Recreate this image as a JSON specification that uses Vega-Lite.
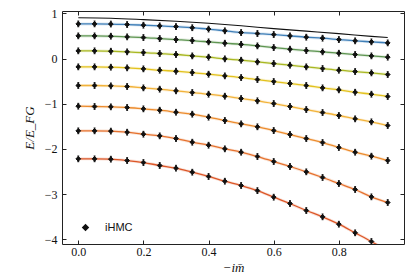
{
  "$schema": "https://vega.github.io/schema/vega-lite/v6.json",
  "width": 342,
  "height": 233,
  "autosize": {"type": "none"},
  "padding": {"left": 62, "top": 11, "right": 11, "bottom": 33},
  "background": "white",
  "config": {
    "view": {"stroke": "#222", "strokeWidth": 1},
    "axis": {
      "domain": false, "grid": false, "tickColor": "#222", "tickSize": -4, "tickWidth": 1,
      "labelColor": "#111", "titleColor": "#111",
      "labelFont": "Liberation Serif", "labelFontSize": 12,
      "titleFont": "Liberation Serif", "titleFontSize": 13, "titleFontStyle": "italic", "titleFontWeight": "normal"
    }
  },
  "datasets": {
    "levels": [
      {"m":0,"n":1,"E":0.765},{"m":0.05,"n":1,"E":0.765},{"m":0.1,"n":1,"E":0.762},{"m":0.15,"n":1,"E":0.751},{"m":0.2,"n":1,"E":0.736},{"m":0.25,"n":1,"E":0.721},{"m":0.3,"n":1,"E":0.705},{"m":0.35,"n":1,"E":0.68},{"m":0.4,"n":1,"E":0.65},{"m":0.45,"n":1,"E":0.612},{"m":0.5,"n":1,"E":0.574},{"m":0.55,"n":1,"E":0.552},{"m":0.6,"n":1,"E":0.53},{"m":0.65,"n":1,"E":0.5},{"m":0.7,"n":1,"E":0.471},{"m":0.75,"n":1,"E":0.449},{"m":0.8,"n":1,"E":0.419},{"m":0.85,"n":1,"E":0.39},{"m":0.9,"n":1,"E":0.368},{"m":0.95,"n":1,"E":0.345},
      {"m":0,"n":2,"E":0.5},{"m":0.05,"n":2,"E":0.5},{"m":0.1,"n":2,"E":0.493},{"m":0.15,"n":2,"E":0.478},{"m":0.2,"n":2,"E":0.463},{"m":0.25,"n":2,"E":0.441},{"m":0.3,"n":2,"E":0.419},{"m":0.35,"n":2,"E":0.397},{"m":0.4,"n":2,"E":0.368},{"m":0.45,"n":2,"E":0.338},{"m":0.5,"n":2,"E":0.312},{"m":0.55,"n":2,"E":0.279},{"m":0.6,"n":2,"E":0.242},{"m":0.65,"n":2,"E":0.206},{"m":0.7,"n":2,"E":0.176},{"m":0.75,"n":2,"E":0.147},{"m":0.8,"n":2,"E":0.117},{"m":0.85,"n":2,"E":0.088},{"m":0.9,"n":2,"E":0.058},{"m":0.95,"n":2,"E":0.029},
      {"m":0,"n":3,"E":0.169},{"m":0.05,"n":3,"E":0.169},{"m":0.1,"n":3,"E":0.161},{"m":0.15,"n":3,"E":0.147},{"m":0.2,"n":3,"E":0.132},{"m":0.25,"n":3,"E":0.11},{"m":0.3,"n":3,"E":0.088},{"m":0.35,"n":3,"E":0.058},{"m":0.4,"n":3,"E":0.029},{"m":0.45,"n":3,"E":-0.008},{"m":0.5,"n":3,"E":-0.038},{"m":0.55,"n":3,"E":-0.074},{"m":0.6,"n":3,"E":-0.111},{"m":0.65,"n":3,"E":-0.148},{"m":0.7,"n":3,"E":-0.185},{"m":0.75,"n":3,"E":-0.222},{"m":0.8,"n":3,"E":-0.259},{"m":0.85,"n":3,"E":-0.288},{"m":0.9,"n":3,"E":-0.318},{"m":0.95,"n":3,"E":-0.354},
      {"m":0,"n":4,"E":-0.185},{"m":0.05,"n":4,"E":-0.185},{"m":0.1,"n":4,"E":-0.192},{"m":0.15,"n":4,"E":-0.207},{"m":0.2,"n":4,"E":-0.229},{"m":0.25,"n":4,"E":-0.259},{"m":0.3,"n":4,"E":-0.281},{"m":0.35,"n":4,"E":-0.31},{"m":0.4,"n":4,"E":-0.347},{"m":0.45,"n":4,"E":-0.384},{"m":0.5,"n":4,"E":-0.421},{"m":0.55,"n":4,"E":-0.465},{"m":0.6,"n":4,"E":-0.509},{"m":0.65,"n":4,"E":-0.553},{"m":0.7,"n":4,"E":-0.597},{"m":0.75,"n":4,"E":-0.649},{"m":0.8,"n":4,"E":-0.693},{"m":0.85,"n":4,"E":-0.745},{"m":0.9,"n":4,"E":-0.789},{"m":0.95,"n":4,"E":-0.84},
      {"m":0,"n":5,"E":-0.597},{"m":0.05,"n":5,"E":-0.597},{"m":0.1,"n":5,"E":-0.605},{"m":0.15,"n":5,"E":-0.619},{"m":0.2,"n":5,"E":-0.649},{"m":0.25,"n":5,"E":-0.678},{"m":0.3,"n":5,"E":-0.715},{"m":0.35,"n":5,"E":-0.752},{"m":0.4,"n":5,"E":-0.789},{"m":0.45,"n":5,"E":-0.833},{"m":0.5,"n":5,"E":-0.885},{"m":0.55,"n":5,"E":-0.935},{"m":0.6,"n":5,"E":-0.995},{"m":0.65,"n":5,"E":-1.061},{"m":0.7,"n":5,"E":-1.128},{"m":0.75,"n":5,"E":-1.194},{"m":0.8,"n":5,"E":-1.26},{"m":0.85,"n":5,"E":-1.334},{"m":0.9,"n":5,"E":-1.4},{"m":0.95,"n":5,"E":-1.481},
      {"m":0,"n":6,"E":-1.054},{"m":0.05,"n":6,"E":-1.061},{"m":0.1,"n":6,"E":-1.069},{"m":0.15,"n":6,"E":-1.083},{"m":0.2,"n":6,"E":-1.113},{"m":0.25,"n":6,"E":-1.143},{"m":0.3,"n":6,"E":-1.187},{"m":0.35,"n":6,"E":-1.231},{"m":0.4,"n":6,"E":-1.297},{"m":0.45,"n":6,"E":-1.371},{"m":0.5,"n":6,"E":-1.445},{"m":0.55,"n":6,"E":-1.51},{"m":0.6,"n":6,"E":-1.592},{"m":0.65,"n":6,"E":-1.68},{"m":0.7,"n":6,"E":-1.769},{"m":0.75,"n":6,"E":-1.857},{"m":0.8,"n":6,"E":-1.967},{"m":0.85,"n":6,"E":-2.071},{"m":0.9,"n":6,"E":-2.159},{"m":0.95,"n":6,"E":-2.255},
      {"m":0,"n":7,"E":-1.599},{"m":0.05,"n":7,"E":-1.599},{"m":0.1,"n":7,"E":-1.605},{"m":0.15,"n":7,"E":-1.629},{"m":0.2,"n":7,"E":-1.673},{"m":0.25,"n":7,"E":-1.71},{"m":0.3,"n":7,"E":-1.769},{"m":0.35,"n":7,"E":-1.85},{"m":0.4,"n":7,"E":-1.916},{"m":0.45,"n":7,"E":-1.997},{"m":0.5,"n":7,"E":-2.071},{"m":0.55,"n":7,"E":-2.166},{"m":0.6,"n":7,"E":-2.277},{"m":0.65,"n":7,"E":-2.387},{"m":0.7,"n":7,"E":-2.505},{"m":0.75,"n":7,"E":-2.63},{"m":0.8,"n":7,"E":-2.763},{"m":0.85,"n":7,"E":-2.895},{"m":0.9,"n":7,"E":-3.058},{"m":0.95,"n":7,"E":-3.183},
      {"m":0,"n":8,"E":-2.218},{"m":0.05,"n":8,"E":-2.218},{"m":0.1,"n":8,"E":-2.225},{"m":0.15,"n":8,"E":-2.255},{"m":0.2,"n":8,"E":-2.299},{"m":0.25,"n":8,"E":-2.365},{"m":0.3,"n":8,"E":-2.424},{"m":0.35,"n":8,"E":-2.513},{"m":0.4,"n":8,"E":-2.608},{"m":0.45,"n":8,"E":-2.712},{"m":0.5,"n":8,"E":-2.807},{"m":0.55,"n":8,"E":-2.92},{"m":0.6,"n":8,"E":-3.065},{"m":0.65,"n":8,"E":-3.205},{"m":0.7,"n":8,"E":-3.36},{"m":0.75,"n":8,"E":-3.5},{"m":0.8,"n":8,"E":-3.662},{"m":0.85,"n":8,"E":-3.853},{"m":0.9,"n":8,"E":-4.045},{"m":0.95,"n":8,"E":-4.25}
    ],
    "bound": [
      {"m":0,"E":0.9},{"m":0.1,"E":0.89},{"m":0.2,"E":0.86},{"m":0.3,"E":0.825},{"m":0.4,"E":0.78},{"m":0.5,"E":0.725},{"m":0.6,"E":0.66},{"m":0.7,"E":0.605},{"m":0.8,"E":0.55},{"m":0.9,"E":0.49},{"m":0.95,"E":0.463}
    ]
  },
  "layer": [
    {
      "data": {"name": "levels"},
      "mark": {"type": "line", "strokeWidth": 3, "opacity": 0.18, "clip": true, "interpolate": "monotone"},
      "encoding": {
        "x": {"field": "m", "type": "quantitative", "scale": {"domain": [-0.05, 1.0], "nice": false, "zero": false},
              "axis": {"orient": "bottom", "values": [0, 0.2, 0.4, 0.6, 0.8], "format": ".1f", "labelPadding": 6, "title": "−im̄", "titlePadding": 4}},
        "y": {"field": "E", "type": "quantitative", "scale": {"domain": [-4.1, 1.05], "nice": false, "zero": false},
              "axis": {"orient": "left", "values": [-4, -3, -2, -1, 0, 1], "format": "d", "labelPadding": 9, "title": "E/E_FG", "titlePadding": 8}},
        "color": {"field": "n", "type": "nominal", "legend": null,
                  "scale": {"range": ["#3f7fb8", "#5f9652", "#a9b822", "#e3c21e", "#f2b33a", "#ec8c2e", "#e6722f", "#dc5627"]}}
      }
    },
    {
      "data": {"name": "levels"},
      "mark": {"type": "line", "strokeWidth": 1.3, "clip": true, "interpolate": "monotone"},
      "encoding": {
        "x": {"field": "m", "type": "quantitative", "axis": {"orient": "top", "values": [0, 0.2, 0.4, 0.6, 0.8], "labels": false, "title": null}},
        "y": {"field": "E", "type": "quantitative", "axis": {"orient": "right", "values": [-4, -3, -2, -1, 0, 1], "labels": false, "title": null}},
        "color": {"field": "n", "type": "nominal", "legend": null}
      }
    },
    {
      "data": {"name": "bound"},
      "mark": {"type": "line", "color": "#111", "strokeWidth": 1.1, "clip": true, "interpolate": "monotone"},
      "encoding": {
        "x": {"field": "m", "type": "quantitative", "axis": null},
        "y": {"field": "E", "type": "quantitative", "axis": null}
      }
    },
    {
      "data": {"name": "levels"},
      "mark": {"type": "point", "filled": true, "fill": "#111", "stroke": "#111", "strokeWidth": 1, "opacity": 1, "size": 40, "clip": true},
      "encoding": {
        "x": {"field": "m", "type": "quantitative", "axis": null},
        "y": {"field": "E", "type": "quantitative", "axis": null},
        "shape": {"datum": "iHMC",
                  "scale": {"range": ["M0,-0.9V0.9M-0.3,-0.9H0.3M-0.3,0.9H0.3M-0.75,0L0,-0.75L0.75,0L0,0.75Z"]},
                  "legend": {"orient": "none", "legendX": 18, "legendY": 211, "title": null, "padding": 0,
                             "labelFont": "Liberation Sans", "labelFontSize": 11, "labelColor": "#111", "labelOffset": 14,
                             "symbolSize": 100, "symbolFillColor": "#111", "symbolStrokeColor": "#111", "symbolStrokeWidth": 1}}
      }
    }
  ],
  "resolve": {"axis": {"x": "independent", "y": "independent"}}
}
